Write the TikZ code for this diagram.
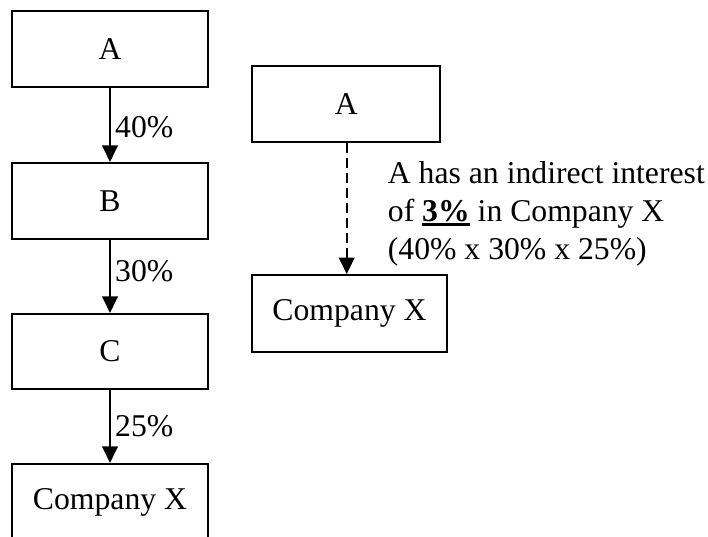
\documentclass[tikz,border=0pt]{standalone}
\usepackage{fontspec}
\setmainfont{Liberation Serif}
\usetikzlibrary{arrows.meta}
\newcommand\myulbox[1]{\leavevmode\vtop{\hbox{#1}\kern1.2pt\hrule height 2.6pt}}
\begin{document}
\begin{tikzpicture}[x=1pt,y=-1pt,
  box/.style={draw, line width=2.1pt, rectangle, inner sep=0pt, font=\fontsize{31.7}{38}\selectfont},
  arr/.style={line width=2.3pt, -{Triangle[length=16.5pt,width=15.5pt]}},
  darr/.style={arr, dash pattern=on 10pt off 5pt},
  lbl/.style={inner sep=0pt, anchor=base west, font=\fontsize{31.7}{38}\selectfont}]
\useasboundingbox (0,0) rectangle (708,537);
\clip (0,0) rectangle (708,537);
% left chain
\node[box, minimum width=196pt, minimum height=76pt] (A) at (110,49) {A};
\node[box, minimum width=196pt, minimum height=76pt] (B) at (110,201) {B};
\node[box, minimum width=196pt, minimum height=75pt] (C) at (110,351.5) {C};
\node[box, minimum width=196pt, minimum height=76pt] (X) at (110,502) {Company X};
\draw[arr] (A) -- (B);
\draw[arr] (B) -- (C);
\draw[arr] (C) -- (X);
\node[lbl] (l1) at (115,138) {40\%};
\node[lbl] (l2) at (115,281.5) {30\%};
\node[lbl] (l3) at (115,436) {25\%};
% right
\node[box, minimum width=188pt, minimum height=76pt] (RA) at (346.2,103.7) {A};
\node[box, minimum width=194.5pt, minimum height=76.5pt] (RX) at (349.5,313.4) {Company X};
\draw[darr] (RA.south -| 346.7,0) -- (RX.north -| 346.7,0);
\node[lbl] (t1) at (387.7,183.3) {A has an indirect interest};
\node[lbl] (t2) at (387.7,221.7) {of \myulbox{\textbf{3\%}} in Company X};
\node[lbl] (t3) at (387.7,259.5) {(40\% x 30\% x 25\%)};
\end{tikzpicture}
\end{document}
